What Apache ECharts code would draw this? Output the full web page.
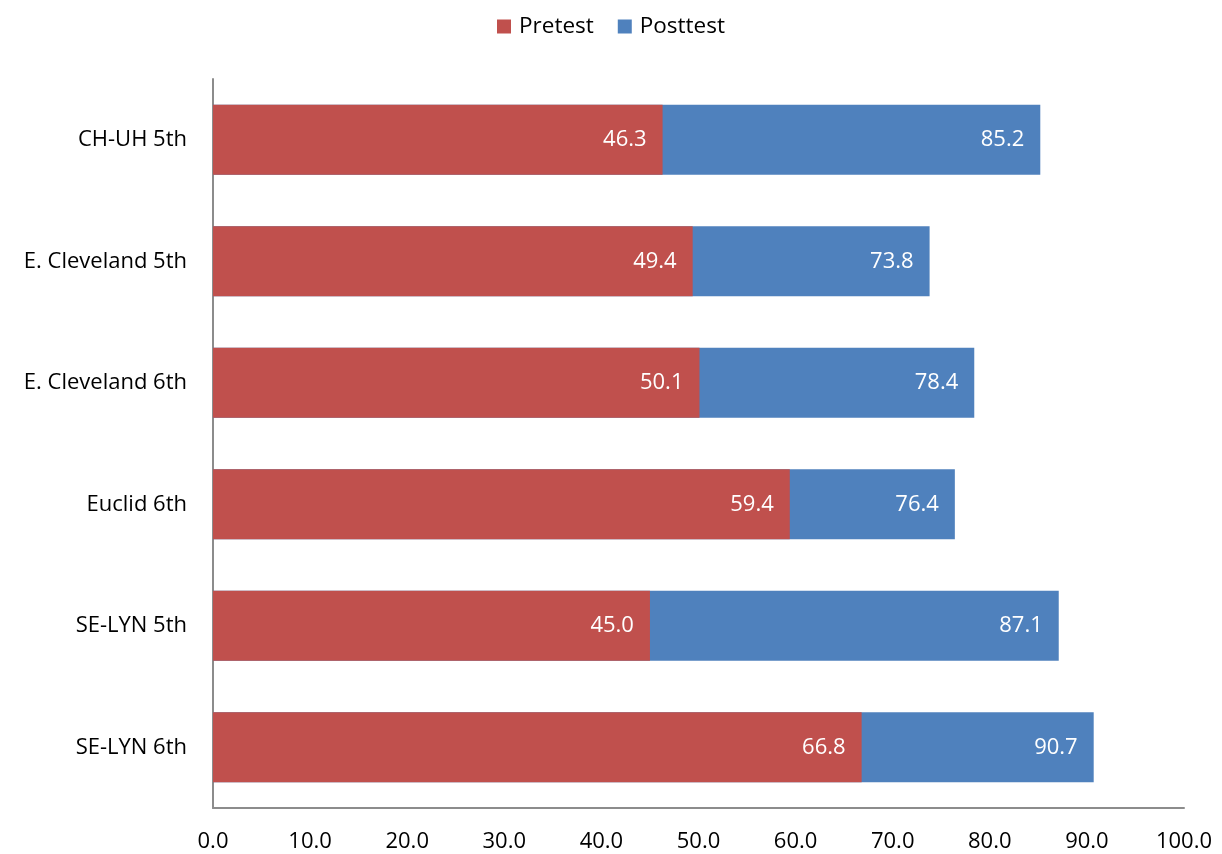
<!DOCTYPE html>
<html><head><meta charset="utf-8">
<script src="https://cdn.jsdelivr.net/npm/echarts@6/dist/echarts.min.js"></script>
<style>html,body{margin:0;padding:0;background:#fff}#c{width:1222px;height:854px}</style>
</head><body><div id="c"></div>
<script>
const categories = ["CH-UH 5th","E. Cleveland 5th","E. Cleveland 6th","Euclid 6th","SE-LYN 5th","SE-LYN 6th"];
const pretest = [46.3,49.4,50.1,59.4,45.0,66.8];
const posttest = [85.2,73.8,78.4,76.4,87.1,90.7];
const font = "'Open Sans', 'Liberation Sans', sans-serif";
const chart = echarts.init(document.getElementById('c'));
const lbl = {show:true, position:'insideRight', distance:16, color:'#fff', fontSize:22, fontFamily:font, formatter:p=>p.value.toFixed(1)};
chart.setOption({
  animation:false,
  legend:{top:10, left:'center', itemWidth:14, itemHeight:14, itemGap:24, icon:'rect',
    textStyle:{fontSize:22.5, fontFamily:font, color:'#000', padding:[0,0,0,3]}, data:['Pretest','Posttest']},
  grid:{left:213, right:38, top:79, bottom:46, containLabel:false},
  xAxis:{type:'value', min:0, max:100, interval:10,
    axisLine:{show:true, lineStyle:{color:'#8c8c8c', width:2}}, axisTick:{show:false}, splitLine:{show:false},
    axisLabel:{fontSize:22, fontFamily:font, color:'#000', margin:23, formatter:v=>v.toFixed(1)}},
  yAxis:{type:'category', data:categories, inverse:true,
    axisLine:{show:true, lineStyle:{color:'#8c8c8c', width:2}}, axisTick:{show:false},
    axisLabel:{fontSize:22, fontFamily:font, color:'#000', margin:26}},
  series:[
    {name:'Posttest', type:'bar', data:posttest, itemStyle:{color:'#4F81BD'}, barWidth:'57.5%', barGap:'-100%', label:lbl, z:2},
    {name:'Pretest', type:'bar', data:pretest, itemStyle:{color:'#C0504D'}, barWidth:'57.5%', barGap:'-100%', label:lbl, z:3}
  ]
});
</script></body></html>
